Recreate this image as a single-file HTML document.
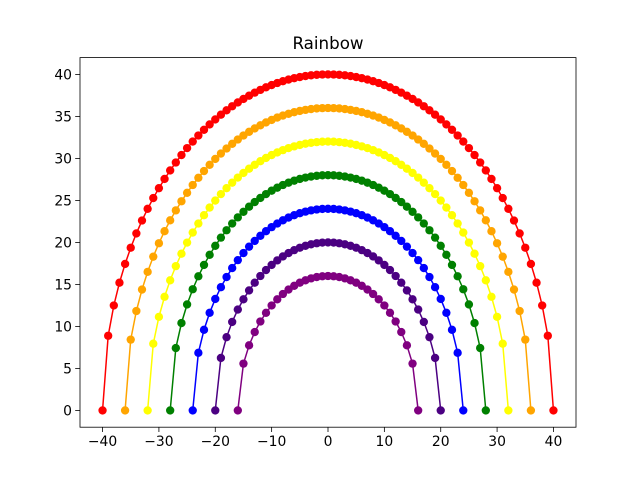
<!DOCTYPE html>
<html><head><meta charset="utf-8"><style>
body{margin:0;background:#fff}
svg{display:block;font-family:"DejaVu Sans","Liberation Sans",sans-serif}
</style></head><body>
<svg id="chart" width="640" height="480" xmlns="http://www.w3.org/2000/svg">
<rect width="640" height="480" fill="#fff"/>
<text x="328" y="49" text-anchor="middle" font-size="16.7">Rainbow</text>
<g id="marks"></g>
<rect x="80" y="57.6" width="496" height="369.6" fill="none" stroke="#000" stroke-width="0.8"/>
<g id="xticks"></g>
<g id="yticks"></g>
</svg>
<script>
const radii = [40, 36, 32, 28, 24, 20, 16];
const colors = ["red", "orange", "yellow", "green", "blue", "#4b0082", "#800080"];
const seriesNames = ["red", "orange", "yellow", "green", "blue", "indigo", "violet"];
const xTicks = [-40, -30, -20, -10, 0, 10, 20, 30, 40];
const yTicks = [0, 5, 10, 15, 20, 25, 30, 35, 40];
const NS = "http://www.w3.org/2000/svg";
const X = v => 80 + (v + 44) / 88 * 496;
const Y = v => 427.2 - (v + 2) / 44 * 369.6;
const marks = document.getElementById("marks");
radii.forEach((r, i) => {
  const g = document.createElementNS(NS, "g");
  
  
  const pts = [];
  for (let x = -r; x <= r; x++) pts.push([x, Math.sqrt(Math.max(0, r * r - x * x))]);
  const pl = document.createElementNS(NS, "polyline");
  pl.setAttribute("points", pts.map(p => X(p[0]) + "," + Y(p[1])).join(" "));
  pl.setAttribute("fill", "none");
  pl.setAttribute("stroke", colors[i]);
  pl.setAttribute("stroke-width", "1.5");
  
  
  g.appendChild(pl);
  pts.forEach(p => {
    const c = document.createElementNS(NS, "circle");
    c.setAttribute("cx", X(p[0])); c.setAttribute("cy", Y(p[1])); c.setAttribute("r", 4.17);
    c.setAttribute("fill", colors[i]);
    
    
    g.appendChild(c);
  });
  marks.appendChild(g);
});
const xt = document.getElementById("xticks");
xTicks.forEach(v => {
  const l = document.createElementNS(NS, "line");
  l.setAttribute("x1", X(v)); l.setAttribute("x2", X(v)); l.setAttribute("y1", 427.2); l.setAttribute("y2", 432);
  l.setAttribute("stroke", "#000"); l.setAttribute("stroke-width", "0.8");
  
  
  xt.appendChild(l);
  const t = document.createElementNS(NS, "text");
  t.setAttribute("x", X(v)); t.setAttribute("y", 446); t.setAttribute("text-anchor", "middle"); t.setAttribute("font-size", "13.9");
  t.textContent = v < 0 ? "\u2212" + (-v) : v;
  
  
  xt.appendChild(t);
});
const yt = document.getElementById("yticks");
yTicks.forEach(v => {
  const l = document.createElementNS(NS, "line");
  l.setAttribute("x1", 75.2); l.setAttribute("x2", 80); l.setAttribute("y1", Y(v)); l.setAttribute("y2", Y(v));
  l.setAttribute("stroke", "#000"); l.setAttribute("stroke-width", "0.8");
  
  
  yt.appendChild(l);
  const t = document.createElementNS(NS, "text");
  t.setAttribute("x", 72); t.setAttribute("y", Y(v) + 5); t.setAttribute("text-anchor", "end"); t.setAttribute("font-size", "13.9");
  t.textContent = v;
  
  
  yt.appendChild(t);
});
</script>
</body></html>
